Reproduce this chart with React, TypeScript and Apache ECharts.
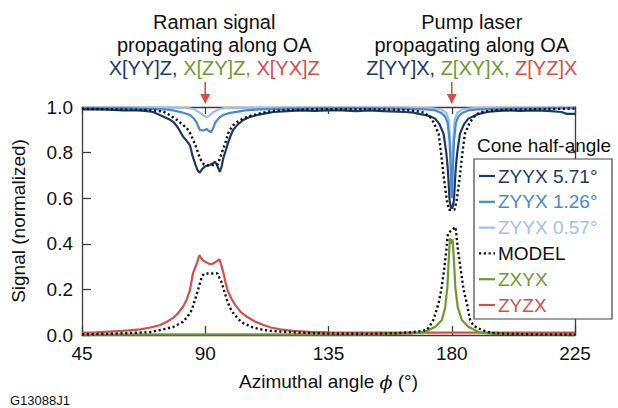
import React, { useEffect, useRef } from "react";
import * as echarts from "echarts";

const FONT = "Liberation Sans, Arial, Helvetica, sans-serif";

const X_TICKS = [45, 90, 135, 180, 225];
const Y_TICKS = [0, 0.2, 0.4, 0.6, 0.8, 1.0];

const C_NAVY = "#1c3a68";
const C_MED = "#4a88d2";
const C_LIGHT = "#9fc0ea";
const C_GREEN = "#6e9a30";
const C_RED = "#d24f4a";
const C_MODEL = "#111111";

const LEGEND_NAMES = ["ZYYX 5.71°", "ZYYX 1.26°", "ZYYX 0.57°", "MODEL", "ZXYX", "ZYZX"];
const LEGEND_COLORS = [C_NAVY, C_MED, C_LIGHT, C_MODEL, C_GREEN, C_RED];

// ZYYX 5.71°
const NAVY_X = [45, 50, 55, 60, 65, 68, 71, 74, 77, 78.3, 80, 81.9, 83, 84.4, 85.5, 86.5, 87.3, 88, 89, 90, 91.5, 93, 93.6, 94.5, 95.3, 96, 96.6, 97.5, 98.4, 99.3, 100.2, 102, 103.9, 106, 109, 112, 115, 120, 125, 130, 135, 140, 145, 150, 155, 160, 163, 166, 168, 170, 172, 174, 175.5, 177, 178, 178.5, 178.8, 179.2, 179.7, 180, 180.3, 180.8, 181.2, 181.5, 182, 183, 184.5, 186, 188, 190, 193, 196, 200, 205, 210, 215, 220, 222, 225];
const NAVY_Y = [0.99, 0.99, 0.988, 0.985, 0.985, 0.983, 0.978, 0.962, 0.945, 0.935, 0.91, 0.87, 0.855, 0.833, 0.78, 0.745, 0.72, 0.712, 0.73, 0.74, 0.745, 0.755, 0.76, 0.74, 0.715, 0.74, 0.776, 0.81, 0.846, 0.875, 0.9, 0.925, 0.943, 0.955, 0.965, 0.972, 0.978, 0.982, 0.985, 0.983, 0.985, 0.985, 0.982, 0.985, 0.982, 0.98, 0.978, 0.975, 0.97, 0.965, 0.96, 0.948, 0.925, 0.883, 0.8, 0.737, 0.68, 0.59, 0.56, 0.555, 0.56, 0.59, 0.68, 0.737, 0.8, 0.883, 0.925, 0.948, 0.96, 0.97, 0.978, 0.982, 0.985, 0.983, 0.985, 0.983, 0.978, 0.97, 0.97];

// ZYYX 1.26°
const MED_X = [45, 60, 75, 78.3, 82, 84.4, 85.8, 86.9, 88, 89.3, 90.6, 91.3, 92.1, 93, 93.6, 94.5, 95.5, 97, 99.1, 102, 104.6, 110, 120, 140, 160, 170, 174, 176, 177.5, 178.5, 179.2, 179.7, 180, 180.3, 180.8, 181.5, 182.5, 184, 186, 190, 200, 225];
const MED_Y = [0.995, 0.995, 0.99, 0.985, 0.975, 0.965, 0.95, 0.93, 0.9, 0.897, 0.903, 0.895, 0.889, 0.91, 0.93, 0.945, 0.957, 0.967, 0.974, 0.98, 0.985, 0.99, 0.993, 0.995, 0.993, 0.99, 0.985, 0.975, 0.96, 0.93, 0.85, 0.7, 0.6, 0.7, 0.85, 0.93, 0.96, 0.975, 0.985, 0.99, 0.993, 0.995];

// ZYYX 0.57°
const LIGHT_X = [45, 80, 84, 86, 88, 89.5, 90.5, 91.5, 93, 95, 97, 100, 150, 172, 176, 178, 179, 179.6, 180, 180.4, 181, 182, 184, 188, 225];
const LIGHT_Y = [0.998, 0.997, 0.995, 0.99, 0.975, 0.962, 0.956, 0.962, 0.978, 0.99, 0.995, 0.996, 0.998, 0.995, 0.99, 0.975, 0.94, 0.8, 0.62, 0.8, 0.94, 0.975, 0.99, 0.995, 0.998];

// MODEL (ZYYX)
const MODEL_DIP_X = [45, 55, 65, 70, 74.7, 77, 79.7, 81.5, 83.3, 84.5, 85.6, 86.5, 87.4, 88.1, 88.8, 89.5, 91, 93, 94.5, 95.5, 96.5, 97.3, 98.4, 99.3, 100.2, 102, 103.9, 106, 108.9, 112, 114.8, 120, 130, 140, 150, 160, 165, 168, 170, 172.1, 173.5, 175.2, 176, 177, 178.2, 179, 180, 181, 181.8, 183, 184, 184.8, 186.5, 188, 190, 192, 195, 200, 210, 225];
const MODEL_DIP_Y = [0.992, 0.99, 0.988, 0.986, 0.98, 0.965, 0.943, 0.925, 0.907, 0.885, 0.855, 0.83, 0.798, 0.775, 0.76, 0.748, 0.745, 0.745, 0.748, 0.78, 0.815, 0.84, 0.885, 0.905, 0.92, 0.937, 0.95, 0.96, 0.969, 0.977, 0.983, 0.987, 0.99, 0.99, 0.99, 0.988, 0.985, 0.98, 0.975, 0.956, 0.93, 0.883, 0.81, 0.7, 0.59, 0.55, 0.548, 0.55, 0.59, 0.7, 0.81, 0.883, 0.93, 0.956, 0.975, 0.98, 0.985, 0.988, 0.99, 0.993];

// MODEL (ZYZX / ZXYX)
const MODEL_PEAK_X = [45, 55, 65, 70, 73.6, 78.3, 81.9, 83.5, 85.1, 86, 87, 88, 88.8, 89.5, 91, 93, 94.5, 95.2, 96.1, 97, 97.9, 99, 100.3, 102, 104, 107, 110.1, 114, 117.4, 125, 135, 150, 160, 165, 168, 170.9, 172, 173.3, 175.2, 176.2, 177.2, 178, 178.6, 179.5, 180.5, 181.4, 182.2, 183.3, 184.3, 185.5, 186.7, 188, 191, 194, 200, 210, 225];
const MODEL_PEAK_Y = [0.003, 0.005, 0.01, 0.013, 0.022, 0.035, 0.058, 0.08, 0.11, 0.145, 0.183, 0.225, 0.256, 0.268, 0.27, 0.27, 0.27, 0.25, 0.227, 0.19, 0.154, 0.12, 0.095, 0.07, 0.051, 0.035, 0.025, 0.018, 0.015, 0.01, 0.006, 0.005, 0.008, 0.012, 0.016, 0.022, 0.04, 0.066, 0.139, 0.2, 0.285, 0.37, 0.445, 0.455, 0.465, 0.474, 0.38, 0.285, 0.2, 0.139, 0.066, 0.04, 0.022, 0.01, 0.005, 0.003, 0.002];

// ZXYX
const GREEN_X = [45, 80, 100, 150, 165, 170, 174, 176.4, 177.6, 178.4, 178.9, 179.3, 179.8, 180.3, 180.8, 181.3, 182.2, 183.7, 186, 190, 195, 225];
const GREEN_Y = [0.002, 0.003, 0.003, 0.003, 0.006, 0.012, 0.036, 0.066, 0.12, 0.21, 0.33, 0.424, 0.4, 0.42, 0.33, 0.21, 0.12, 0.066, 0.036, 0.012, 0.005, 0.003];

// ZYZX
const RED_X = [45, 50, 55, 60, 66.3, 70, 73.6, 76, 78.3, 80, 81.9, 83.2, 84.4, 85.5, 86.7, 87.9, 88.6, 89.3, 90.5, 91.5, 92.4, 93.5, 95.2, 96, 96.7, 97.4, 98.1, 99.5, 101, 103, 105.2, 108, 111.2, 114, 117.4, 122, 128, 135, 145, 160, 175, 180, 190, 205, 225];
const RED_Y = [0.01, 0.012, 0.015, 0.018, 0.025, 0.033, 0.044, 0.058, 0.075, 0.095, 0.124, 0.155, 0.197, 0.27, 0.307, 0.35, 0.335, 0.326, 0.318, 0.312, 0.311, 0.318, 0.332, 0.3, 0.27, 0.23, 0.197, 0.16, 0.131, 0.1, 0.08, 0.06, 0.044, 0.033, 0.025, 0.018, 0.014, 0.012, 0.011, 0.01, 0.01, 0.01, 0.01, 0.01, 0.01];

const zip = (xs: number[], ys: number[]) => xs.map((x, i) => [x, ys[i]]);

const AXIS_COLOR = "#3c3c3c";
const DOT_DASH = [2.2, 2.6];

export default function App() {
  const ref = useRef<HTMLDivElement>(null);

  useEffect(() => {
    if (!ref.current) return;
    const chart = echarts.init(ref.current, null, { renderer: "svg" });

    const solid = (name: string, color: string, xs: number[], ys: number[]) => ({
      name,
      type: "line",
      data: zip(xs, ys),
      showSymbol: false,
      symbol: "none",
      lineStyle: { color, width: 2.2 },
      itemStyle: { color },
    });
    const dotted = (xs: number[], ys: number[]) => ({
      name: "MODEL",
      type: "line",
      data: zip(xs, ys),
      showSymbol: false,
      symbol: "none",
      lineStyle: { color: C_MODEL, width: 2.4, type: DOT_DASH, cap: "butt" },
      itemStyle: { color: C_MODEL },
    });

    const axisCommon = {
      type: "value",
      axisLine: { show: true, onZero: false, lineStyle: { color: AXIS_COLOR, width: 1.3 } },
      splitLine: { show: false },
    };

    chart.setOption({
      animation: false,
      backgroundColor: "#ffffff",
      textStyle: { fontFamily: FONT },
      grid: { left: 82, right: 43, top: 107, bottom: 73, containLabel: false },
      xAxis: [
        {
          ...axisCommon,
          min: X_TICKS[0],
          max: X_TICKS[X_TICKS.length - 1],
          interval: X_TICKS[1] - X_TICKS[0],
          position: "bottom",
          axisTick: { show: true, inside: true, length: 9, lineStyle: { color: AXIS_COLOR, width: 1.3 } },
          axisLabel: { fontSize: 19, color: "#111", margin: 9, fontFamily: FONT },
          name: "Azimuthal angle {i|ϕ} (°)",
          nameLocation: "middle",
          nameGap: 37,
          nameTextStyle: {
            fontSize: 19,
            color: "#111",
            fontFamily: FONT,
            rich: { i: { fontSize: 19, fontStyle: "italic", fontFamily: "DejaVu Serif, serif", color: "#111" } },
          },
        },
        {
          ...axisCommon,
          min: X_TICKS[0],
          max: X_TICKS[X_TICKS.length - 1],
          interval: X_TICKS[1] - X_TICKS[0],
          position: "top",
          axisTick: { show: true, inside: true, length: 7, lineStyle: { color: AXIS_COLOR, width: 1.3 } },
          axisLabel: { show: false },
        },
      ],
      yAxis: [
        {
          ...axisCommon,
          min: Y_TICKS[0],
          max: Y_TICKS[Y_TICKS.length - 1],
          interval: 0.2,
          position: "left",
          axisTick: { show: true, inside: true, length: 9, lineStyle: { color: AXIS_COLOR, width: 1.3 } },
          axisLabel: {
            fontSize: 19,
            color: "#111",
            margin: 9,
            fontFamily: FONT,
            formatter: (v: number) => v.toFixed(1),
          },
          name: "Signal (normalized)",
          nameLocation: "middle",
          nameGap: 54,
          nameRotate: 90,
          nameTextStyle: { fontSize: 19, color: "#111", fontFamily: FONT },
        },
        {
          ...axisCommon,
          min: Y_TICKS[0],
          max: Y_TICKS[Y_TICKS.length - 1],
          interval: 0.2,
          position: "right",
          axisTick: { show: true, inside: true, length: 7, lineStyle: { color: AXIS_COLOR, width: 1.3 } },
          axisLabel: { show: false },
        },
      ],
      series: [
        solid("ZYZX", C_RED, RED_X, RED_Y),
        solid("ZXYX", C_GREEN, GREEN_X, GREEN_Y),
        solid("ZYYX 0.57°", C_LIGHT, LIGHT_X, LIGHT_Y),
        solid("ZYYX 1.26°", C_MED, MED_X, MED_Y),
        solid("ZYYX 5.71°", C_NAVY, NAVY_X, NAVY_Y),
        dotted(MODEL_DIP_X, MODEL_DIP_Y),
        dotted(MODEL_PEAK_X, MODEL_PEAK_Y),
      ],
    });

    const x90 = chart.convertToPixel({ xAxisIndex: 0 }, 90) as number;
    const x180 = chart.convertToPixel({ xAxisIndex: 0 }, 180) as number;
    const yTop = chart.convertToPixel({ yAxisIndex: 0 }, 1) as number;

    const arrow = (x: number) => [
      {
        type: "line",
        z: 100,
        shape: { x1: x, y1: yTop - 25, x2: x, y2: yTop - 10 },
        style: { stroke: C_RED, lineWidth: 1.6 },
        silent: true,
      },
      {
        type: "polygon",
        z: 100,
        shape: { points: [[x - 5, yTop - 13], [x + 5, yTop - 13], [x, yTop - 3]] },
        style: { fill: C_RED },
        silent: true,
      },
    ];

    const txt = (x: number, y: number, text: string, size: number, rich?: any, fill = "#111") => ({
      type: "text",
      x,
      y,
      z: 100,
      silent: true,
      style: {
        text,
        fill,
        fontSize: size,
        fontFamily: FONT,
        align: "center",
        verticalAlign: "middle",
        rich,
      },
    });

    const richCols = {
      n: { fill: C_NAVY, fontSize: 20, fontFamily: FONT },
      g: { fill: C_GREEN, fontSize: 20, fontFamily: FONT },
      r: { fill: C_RED, fontSize: 20, fontFamily: FONT },
    };

    const leftC = x90 + 9;
    const rightC = x180 + 20;

    // legend (drawn manually)
    const LX = 474;
    const LY = 159;
    const LW = 138;
    const LH = 160;
    const legendEls: any[] = [
      {
        type: "rect",
        z: 100,
        silent: true,
        shape: { x: LX, y: LY, width: LW, height: LH },
        style: { fill: "#ffffff", stroke: "#444", lineWidth: 1.2 },
      },
      {
        type: "text",
        z: 101,
        silent: true,
        x: 477,
        y: 145,
        style: { text: "Cone half-angle", fill: "#111", fontSize: 19, fontFamily: FONT, verticalAlign: "middle" },
      },
    ];
    LEGEND_NAMES.forEach((name, i) => {
      const cy = LY + 17 + i * 25.8;
      const isModel = name === "MODEL";
      legendEls.push({
        type: "line",
        z: 101,
        silent: true,
        shape: { x1: LX + 5, y1: cy, x2: LX + 21, y2: cy },
        style: {
          stroke: LEGEND_COLORS[i],
          lineWidth: isModel ? 2.4 : 2.2,
          lineDash: isModel ? DOT_DASH : null,
        },
      });
      legendEls.push({
        type: "text",
        z: 101,
        silent: true,
        x: LX + 24,
        y: cy,
        style: { text: name, fill: LEGEND_COLORS[i], fontSize: 19, fontFamily: FONT, verticalAlign: "middle" },
      });
    });

    chart.setOption({
      graphic: [
        ...arrow(x90),
        ...arrow(x180),
        txt(leftC, yTop - 85, "Raman signal", 20),
        txt(leftC, yTop - 62, "propagating along OA", 20),
        txt(leftC, yTop - 39, "{n|X[YY]Z,} {g|X[ZY]Z,} {r|X[YX]Z}", 20, richCols),
        txt(rightC, yTop - 85, "Pump laser", 20),
        txt(rightC, yTop - 62, "propagating along OA", 20),
        txt(rightC, yTop - 39, "{n|Z[YY]X,} {g|Z[XY]X,} {r|Z[YZ]X}", 20, richCols),
        ...legendEls,
        {
          type: "text",
          left: 10,
          top: 394,
          silent: true,
          style: { text: "G13088J1", fill: "#111", fontSize: 13, fontFamily: FONT },
        },
      ],
    });

    return () => chart.dispose();
  }, []);

  return (
    <div
      ref={ref}
      style={{ position: "fixed", left: 0, top: 0, width: 618, height: 408, background: "#fff" }}
    />
  );
}
